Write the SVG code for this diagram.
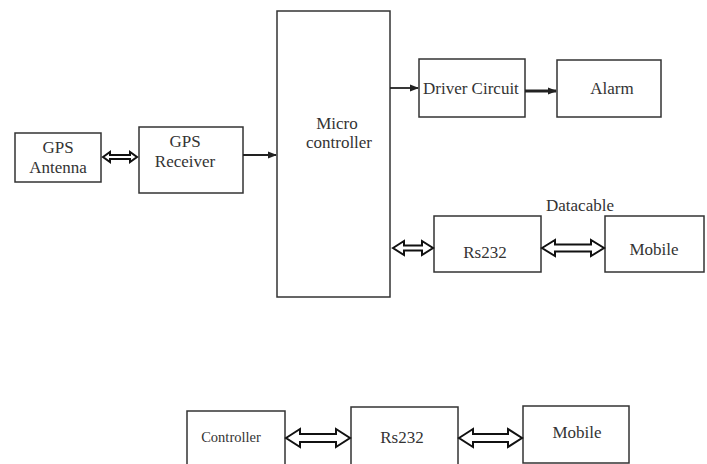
<svg xmlns="http://www.w3.org/2000/svg" width="707" height="464" viewBox="0 0 707 464">
<style>
.box{fill:#fff;stroke:#333;stroke-width:1.5}
.t{font-size:17px;fill:#333;text-anchor:middle}
.da{fill:#fff;stroke:#111;stroke-width:2;stroke-linejoin:miter}
.ln{stroke:#222;stroke-width:1.8;fill:none}
</style>
<defs>
<marker id="ah" markerWidth="9" markerHeight="9" refX="8" refY="4.5" orient="auto" markerUnits="userSpaceOnUse">
<path d="M0,1 L9,4.5 L0,8 Z" fill="#222"/>
</marker>
</defs>
<rect width="707" height="464" fill="#fff"/>
<g font-family="Liberation Serif, DejaVu Serif, serif">
<g id="gps-antenna"><rect class="box" x="15" y="133" width="86" height="49"/><text class="t" x="58" y="153">GPS</text><text class="t" x="58" y="173">Antenna</text></g>
<g id="gps-receiver"><rect class="box" x="139" y="127" width="104" height="66"/><text class="t" x="185" y="147">GPS</text><text class="t" x="185" y="167">Receiver</text></g>
<g id="microcontroller"><rect class="box" x="277" y="11" width="113" height="286"/><text class="t" x="337" y="129">Micro</text><text class="t" x="339" y="148">controller</text></g>
<g id="driver-circuit"><rect class="box" x="419" y="59" width="106" height="58"/><text class="t" x="423" y="94" style="text-anchor:start">Driver Circuit</text></g>
<g id="alarm"><rect class="box" x="557" y="60" width="104" height="57"/><text class="t" x="612" y="94">Alarm</text></g>
<g id="rs232-top"><rect class="box" x="434" y="216" width="107" height="56"/><text class="t" x="485" y="258">Rs232</text></g>
<g id="mobile-top"><rect class="box" x="605" y="216" width="99" height="56"/><text class="t" x="654" y="255">Mobile</text></g>
<g id="controller-bottom"><rect class="box" x="187" y="411" width="98" height="60"/><text class="t" x="231" y="442" style="font-size:14.5px">Controller</text></g>
<g id="rs232-bottom"><rect class="box" x="351" y="407" width="107" height="64"/><text class="t" x="402" y="443">Rs232</text></g>
<g id="mobile-bottom"><rect class="box" x="523" y="406" width="106" height="57"/><text class="t" x="577" y="438">Mobile</text></g>
<text class="t" x="580" y="211">Datacable</text>
</g>
<g id="connectors">
<line class="ln" x1="243" y1="155" x2="276" y2="155" marker-end="url(#ah)"/>
<line class="ln" x1="390" y1="88" x2="418" y2="88" marker-end="url(#ah)"/>
<line class="ln" x1="525" y1="91" x2="556" y2="91" style="stroke-width:3" marker-end="url(#ah)"/>
<path class="da" d="M103,157 L110,152 L110,155 L130,155 L130,152 L137,157 L130,162 L130,159 L110,159 L110,162 Z"/>
<path class="da" d="M393,248 L404,241 L404,245.5 L422,245.5 L422,241 L433,248 L422,255 L422,250.5 L404,250.5 L404,255 Z"/>
<path class="da" d="M542,248 L555,240 L555,244.5 L591,244.5 L591,240 L604,248 L591,256 L591,251.5 L555,251.5 L555,256 Z"/>
<path class="da" d="M286,438 L300,429 L300,434 L336,434 L336,429 L350,438 L336,447 L336,442 L300,442 L300,447 Z"/>
<path class="da" d="M459,438 L473,429 L473,434 L508,434 L508,429 L522,438 L508,447 L508,442 L473,442 L473,447 Z"/>
</g>
</svg>
